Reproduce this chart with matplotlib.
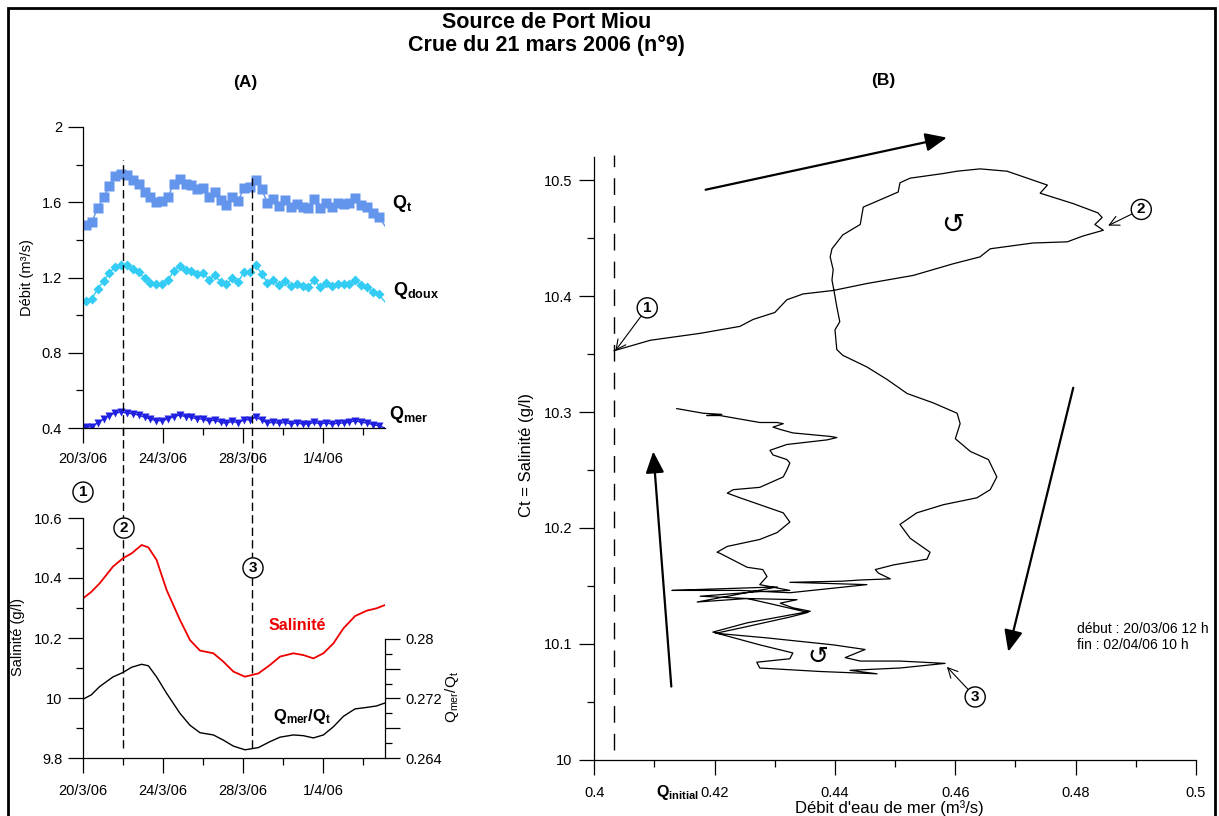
import numpy as np
import matplotlib
matplotlib.use("Agg")
import matplotlib.pyplot as plt
from matplotlib.patches import Rectangle
from matplotlib.ticker import FixedLocator, FixedFormatter

plt.rcParams['font.family'] = ['Liberation Sans', 'DejaVu Sans']
plt.rcParams['mathtext.fontset'] = 'custom'
plt.rcParams['mathtext.rm'] = 'Liberation Sans'
plt.rcParams['mathtext.bf'] = 'Liberation Sans:bold'
plt.rcParams['mathtext.it'] = 'Liberation Sans:italic'

# ---- (A) top : debits, jours depuis le 20/3/06
days_q = [0.0, 0.15, 0.44, 0.74, 1.03, 1.32, 1.61, 1.91, 2.20, 2.49, 2.78,
          3.08, 3.37, 3.66, 3.96, 4.25, 4.54, 4.83, 5.13, 5.42, 5.71,
          6.00, 6.30, 6.59, 6.88, 7.17, 7.47, 7.76, 8.05, 8.35, 8.64,
          8.93, 9.22, 9.52, 9.81, 10.10, 10.39, 10.69, 10.98, 11.27, 11.56,
          11.86, 12.15, 12.44, 12.74, 13.03, 13.32, 13.61, 13.91, 14.20, 14.49,
          14.78, 15.1]
q_total = [1.480, 1.479, 1.497, 1.568, 1.627, 1.684, 1.742, 1.751, 1.746, 1.719, 1.698,
           1.653, 1.627, 1.602, 1.609, 1.630, 1.698, 1.723, 1.698, 1.692, 1.669,
           1.678, 1.627, 1.657, 1.612, 1.586, 1.627, 1.609, 1.675, 1.680, 1.719,
           1.669, 1.598, 1.616, 1.580, 1.612, 1.577, 1.591, 1.577, 1.572, 1.616,
           1.572, 1.598, 1.577, 1.595, 1.591, 1.598, 1.621, 1.586, 1.577, 1.541,
           1.524, 1.474]
q_doux = [1.075, 1.076, 1.086, 1.141, 1.180, 1.225, 1.257, 1.269, 1.266, 1.243, 1.230,
          1.195, 1.173, 1.164, 1.168, 1.186, 1.236, 1.260, 1.239, 1.236, 1.221,
          1.225, 1.189, 1.212, 1.177, 1.164, 1.195, 1.177, 1.230, 1.230, 1.266,
          1.221, 1.172, 1.186, 1.159, 1.182, 1.154, 1.168, 1.154, 1.150, 1.186,
          1.150, 1.172, 1.154, 1.164, 1.164, 1.164, 1.186, 1.159, 1.150, 1.124,
          1.111, 1.070]
q_mer = [0.403, 0.404, 0.407, 0.428, 0.448, 0.466, 0.480, 0.484, 0.480, 0.475, 0.469,
         0.457, 0.448, 0.439, 0.439, 0.448, 0.460, 0.469, 0.460, 0.457, 0.448,
         0.448, 0.436, 0.443, 0.430, 0.425, 0.436, 0.427, 0.444, 0.444, 0.457,
         0.443, 0.427, 0.430, 0.425, 0.430, 0.421, 0.427, 0.421, 0.421, 0.430,
         0.421, 0.427, 0.421, 0.425, 0.427, 0.430, 0.439, 0.430, 0.427, 0.418,
         0.412, 0.400]

# ---- (A) bottom : salinite et Qmer/Qt
days_s = [0.0, 0.42, 0.83, 1.5, 2.0, 2.43, 2.93, 3.27, 3.68, 4.18, 4.85, 5.35,
          5.85, 6.52, 7.02, 7.52, 8.1, 8.77, 9.35, 9.85, 10.52, 11.02, 11.52,
          12.02, 12.52, 13.02, 13.6, 14.18, 14.68, 15.1]
salinity = [10.332, 10.354, 10.382, 10.438, 10.466, 10.482, 10.51, 10.502, 10.46,
            10.36, 10.26, 10.193, 10.158, 10.149, 10.121, 10.088, 10.071, 10.082,
            10.11, 10.138, 10.149, 10.143, 10.132, 10.149, 10.182, 10.232, 10.273,
            10.291, 10.299, 10.31]
ratio_mer = [0.2719, 0.2725, 0.2736, 0.2749, 0.2755, 0.2762, 0.2766, 0.2764, 0.2749,
             0.2727, 0.2700, 0.2684, 0.2674, 0.2671, 0.2664, 0.2656, 0.2651, 0.2654,
             0.2662, 0.2668, 0.2671, 0.2670, 0.2667, 0.2671, 0.2682, 0.2696, 0.2706,
             0.2708, 0.2710, 0.2714]

date_ticks = [0, 4, 8, 12]
date_minor = [2, 6, 10, 14]
date_labels = ["20/3/06", "24/3/06", "28/3/06", "1/4/06"]
event_days = [2.0, 8.45]

# ---- (B) boucle Qmer / salinite
qmer_path = [0.4033, 0.4093, 0.4176, 0.4242, 0.4264, 0.4300, 0.4320, 0.4347, 0.4397, 0.4453,
             0.4530, 0.4596, 0.4641, 0.4658, 0.4729, 0.4786, 0.4812, 0.4846, 0.4832, 0.4844,
             0.4837, 0.4796, 0.4753, 0.4741, 0.4753, 0.4708, 0.4686, 0.4641, 0.4603, 0.4580,
             0.4525, 0.4508, 0.4505, 0.4447, 0.4442, 0.4413, 0.4395, 0.4392, 0.4397, 0.4395,
             0.4399, 0.4403, 0.4408, 0.4400, 0.4403, 0.4413, 0.4453, 0.4487, 0.4520, 0.4563,
             0.4603, 0.4608, 0.4600, 0.4625, 0.4655, 0.4669, 0.4658, 0.4636, 0.4580, 0.4536,
             0.4508, 0.4525, 0.4558, 0.4553, 0.4497, 0.4467, 0.4472, 0.4492, 0.4442, 0.4413,
             0.4325, 0.4453, 0.4325, 0.4242, 0.4129, 0.4184, 0.4304, 0.4171, 0.4254, 0.4337,
             0.4309, 0.4330, 0.4359, 0.4254, 0.4197, 0.4275, 0.4330, 0.4325, 0.4270, 0.4275,
             0.4375, 0.4470, 0.4425, 0.4508, 0.4583, 0.4508, 0.4442, 0.4417, 0.4450, 0.4397,
             0.4287, 0.4202, 0.4247, 0.4325, 0.4355, 0.4330, 0.4297, 0.4254, 0.4176, 0.4275,
             0.4325, 0.4275, 0.4287, 0.4280, 0.4254, 0.4209, 0.4204, 0.4221, 0.4275, 0.4304,
             0.4325, 0.4314, 0.4275, 0.4242, 0.4221, 0.4231, 0.4275, 0.4314, 0.4320, 0.4325,
             0.4320, 0.4297, 0.4292, 0.4320, 0.4387, 0.4403, 0.4392, 0.4330, 0.4309, 0.4297,
             0.4314, 0.4304, 0.4275, 0.4209, 0.4187, 0.4212, 0.4181, 0.4137]
sal_path = [10.353, 10.362, 10.368, 10.374, 10.380, 10.386, 10.397, 10.402, 10.405, 10.411,
            10.418, 10.428, 10.434, 10.441, 10.446, 10.447, 10.452, 10.457, 10.462, 10.468,
            10.472, 10.480, 10.487, 10.489, 10.496, 10.504, 10.508, 10.510, 10.508, 10.506,
            10.502, 10.498, 10.490, 10.477, 10.462, 10.453, 10.441, 10.434, 10.423, 10.414,
            10.403, 10.391, 10.378, 10.371, 10.354, 10.349, 10.339, 10.328, 10.316, 10.308,
            10.299, 10.290, 10.277, 10.266, 10.259, 10.244, 10.233, 10.226, 10.220, 10.213,
            10.203, 10.191, 10.179, 10.173, 10.168, 10.164, 10.161, 10.156, 10.155, 10.154,
            10.153, 10.151, 10.144, 10.146, 10.146, 10.147, 10.149, 10.136, 10.139, 10.138,
            10.135, 10.131, 10.128, 10.118, 10.110, 10.099, 10.092, 10.087, 10.084, 10.079,
            10.076, 10.074, 10.077, 10.079, 10.083, 10.085, 10.085, 10.088, 10.095, 10.099,
            10.105, 10.109, 10.114, 10.123, 10.127, 10.130, 10.134, 10.139, 10.141, 10.145,
            10.146, 10.151, 10.158, 10.164, 10.166, 10.178, 10.179, 10.184, 10.190, 10.196,
            10.205, 10.213, 10.220, 10.226, 10.230, 10.233, 10.235, 10.244, 10.250, 10.256,
            10.259, 10.263, 10.267, 10.272, 10.276, 10.278, 10.279, 10.282, 10.285, 10.287,
            10.290, 10.291, 10.291, 10.297, 10.297, 10.298, 10.299, 10.303]
q_initial = 0.4033

W, H = 1219, 816


def px_box(x0, y0, x1, y1):
    return [x0 / W, 1 - y1 / H, (x1 - x0) / W, (y1 - y0) / H]


def style(ax, sides=("left", "bottom")):
    for s in ["left", "right", "top", "bottom"]:
        ax.spines[s].set_visible(s in sides)
        ax.spines[s].set_linewidth(0.9)
    ax.tick_params(which="major", direction="out", length=11, width=0.9, labelsize=10.5)
    ax.tick_params(which="minor", direction="out", length=5, width=0.9)
    ax.patch.set_visible(False)


fig = plt.figure(figsize=(W / 100, H / 100), dpi=100)

# cadre
fig.patches.append(Rectangle((8 / W, -0.02), (1215 - 8) / W, 1.02 - 8 / H,
                             transform=fig.transFigure, fill=False, lw=2, ec="k"))

fig.text(547 / W, 1 - 22 / H, "Source de Port Miou", ha="center", va="center",
         fontsize=15.5, fontweight="bold")
fig.text(546 / W, 1 - 45 / H, "Crue du 21 mars 2006 (n°9)", ha="center", va="center",
         fontsize=15.5, fontweight="bold")
fig.text(245 / W, 1 - 82 / H, "(A)", ha="center", va="center", fontsize=12.5, fontweight="bold")
fig.text(883 / W, 1 - 80 / H, "(B)", ha="center", va="center", fontsize=12.5, fontweight="bold")

# ---------- (A) debits
ax_q = fig.add_axes(px_box(83, 127, 385, 428))
style(ax_q)
ax_q.plot(days_q, q_total, color="#6495ED", lw=1, marker="s", ms=6.5, mec="none",
          markevery=slice(1, -1))
ax_q.plot(days_q, q_doux, color="#33CCF5", lw=1, marker="D", ms=4.8, mec="none",
          markevery=slice(1, -1))
ax_q.plot(days_q, q_mer, color="#2020E0", lw=1, marker="v", ms=5.5, mec="none",
          markevery=slice(1, -1))
ax_q.set_xlim(0, 15.1)
ax_q.set_ylim(0.4, 2)
ax_q.xaxis.set_major_locator(FixedLocator(date_ticks))
ax_q.xaxis.set_major_formatter(FixedFormatter(date_labels))
ax_q.xaxis.set_minor_locator(FixedLocator(date_minor))
ax_q.yaxis.set_major_locator(FixedLocator([0.4, 0.8, 1.2, 1.6, 2.0]))
ax_q.yaxis.set_major_formatter(FixedFormatter(["0.4", "0.8", "1.2", "1.6", "2"]))
ax_q.yaxis.set_minor_locator(FixedLocator([0.6, 1.0, 1.4, 1.8]))
ax_q.tick_params(axis="x", pad=6)
ax_q.tick_params(axis="y", pad=4)
ax_q.text(-0.185, 0.5, "Débit (m³/s)", transform=ax_q.transAxes, rotation=90,
          ha="center", va="center", fontsize=10.5)
ax_q.text(15.45, 1.596, r"$\mathbf{Q}_\mathbf{t}$", fontsize=13, ha="left", va="center")
ax_q.text(15.5, 1.133, r"$\mathbf{Q}_\mathbf{doux}$", fontsize=13, ha="left", va="center")
ax_q.text(15.3, 0.474, r"$\mathbf{Q}_\mathbf{mer}$", fontsize=13, ha="left", va="center")

# lignes pointillees 2 et 3 (traversent les deux graphes)
xt = ax_q.get_xaxis_transform()
ax_q.plot([event_days[0]] * 2, [-1.063, 0.890], transform=xt, color="k", lw=1,
          dashes=(6, 3), clip_on=False)
ax_q.plot([event_days[1]] * 2, [-1.063, 0.831], transform=xt, color="k", lw=1,
          dashes=(6, 3), clip_on=False)

# ---------- (A) salinite
ax_s = fig.add_axes(px_box(83, 518, 385, 758))
style(ax_s)
ax_s.plot(days_s, salinity, color="#EE0000", lw=1.3)
ax_s.set_xlim(0, 15.1)
ax_s.set_ylim(9.8, 10.6)
ax_s.xaxis.set_major_locator(FixedLocator(date_ticks))
ax_s.xaxis.set_major_formatter(FixedFormatter(date_labels))
ax_s.xaxis.set_minor_locator(FixedLocator(date_minor))
ax_s.yaxis.set_major_locator(FixedLocator([9.8, 10.0, 10.2, 10.4, 10.6]))
ax_s.yaxis.set_major_formatter(FixedFormatter(["9.8", "10", "10.2", "10.4", "10.6"]))
ax_s.yaxis.set_minor_locator(FixedLocator([9.9, 10.1, 10.3, 10.5]))
ax_s.tick_params(axis="x", pad=8)
ax_s.tick_params(axis="y", pad=4)
ax_s.text(-0.215, 0.504, "Salinité (g/l)", transform=ax_s.transAxes, rotation=90,
          ha="center", va="center", fontsize=10.5)
ax_s.text(10.7, 10.24, "Salinité", color="#EE0000", fontsize=11.5, fontweight="bold",
          ha="center", va="center")
ax_s.text(10.95, 9.94, r"$\mathbf{Q}_\mathbf{mer}\mathbf{/Q}_\mathbf{t}$", fontsize=12,
          ha="center", va="center")

circ = dict(boxstyle="circle,pad=0.2", fc="white", ec="k", lw=1)
sx = ax_s.get_xaxis_transform()
ax_s.text(0.0, 1.108, "1", transform=sx, fontsize=11, fontweight="bold", ha="center",
          va="center", bbox=circ, zorder=5)
ax_s.text(2.05, 0.958, "2", transform=sx, fontsize=11, fontweight="bold", ha="center",
          va="center", bbox=circ, zorder=5)
ax_s.text(8.5, 0.792, "3", transform=sx, fontsize=11, fontweight="bold", ha="center",
          va="center", bbox=circ, zorder=5)

# axe droit Qmer/Qt
ax_r = fig.add_axes(px_box(83, 639, 385, 758))
style(ax_r, sides=("right",))
ax_r.plot(days_s, ratio_mer, color="k", lw=1)
ax_r.set_xlim(0, 15.1)
ax_r.set_ylim(0.264, 0.28)
ax_r.set_xticks([])
ax_r.yaxis.tick_right()
ax_r.yaxis.set_major_locator(FixedLocator([0.264, 0.268, 0.272, 0.276, 0.28]))
ax_r.yaxis.set_major_formatter(FixedFormatter(["0.264", "", "0.272", "", "0.28"]))
ax_r.yaxis.set_minor_locator(FixedLocator([0.266, 0.270, 0.274, 0.278]))
ax_r.tick_params(axis="y", pad=4)
ax_r.text(1.222, 0.513, r"$\mathrm{Q}_\mathrm{mer}\mathrm{/Q}_\mathrm{t}$", transform=ax_r.transAxes,
          rotation=90, ha="center", va="center", fontsize=11)

# ---------- (B)
ax_b = fig.add_axes(px_box(594.3, 157.3, 1196, 759.5))
style(ax_b)
ax_b.plot(qmer_path, sal_path, color="k", lw=0.9)
ax_b.set_xlim(0.4, 0.5)
ax_b.set_ylim(10.0, 10.52)
ax_b.xaxis.set_major_locator(FixedLocator([0.40, 0.42, 0.44, 0.46, 0.48, 0.50]))
ax_b.xaxis.set_major_formatter(FixedFormatter(["0.4", "0.42", "0.44", "0.46", "0.48", "0.5"]))
ax_b.xaxis.set_minor_locator(FixedLocator([0.41, 0.43, 0.45, 0.47, 0.49]))
ax_b.yaxis.set_major_locator(FixedLocator([10.0, 10.1, 10.2, 10.3, 10.4, 10.5]))
ax_b.yaxis.set_major_formatter(FixedFormatter(["10", "10.1", "10.2", "10.3", "10.4", "10.5"]))
ax_b.yaxis.set_minor_locator(FixedLocator([10.05, 10.15, 10.25, 10.35, 10.45]))
ax_b.tick_params(axis="x", pad=8)
ax_b.tick_params(axis="y", pad=5)
ax_b.text(0.49, -0.0805, "Débit d'eau de mer (m³/s)", transform=ax_b.transAxes,
          ha="center", va="center", fontsize=12)
ax_b.text(-0.112, 0.506, "Ct = Salinité (g/l)", transform=ax_b.transAxes, rotation=90,
          ha="center", va="center", fontsize=12)

bx = ax_b.get_xaxis_transform()
ax_b.plot([q_initial] * 2, [0.016, 1.004], transform=bx, color="k", lw=1,
          dashes=(12, 8), clip_on=False)
ax_b.text(q_initial + 0.0106, -0.054, r"$\mathbf{Q}_\mathbf{initial}$", transform=bx,
          ha="center", va="center", fontsize=11.5)

big = dict(arrowstyle="-|>,head_length=0.65,head_width=0.28", lw=1.6, color="k",
           mutation_scale=20, shrinkA=0, shrinkB=0)
ax_b.annotate("", xy=(0.4586, 10.537), xytext=(0.4185, 10.492), arrowprops=big,
              annotation_clip=False)
ax_b.annotate("", xy=(0.4688, 10.093), xytext=(0.4796, 10.321), arrowprops=big,
              annotation_clip=False)
ax_b.annotate("", xy=(0.4098, 10.266), xytext=(0.4128, 10.063), arrowprops=big,
              annotation_clip=False)

thin = dict(arrowstyle="->,head_length=0.5,head_width=0.25", lw=0.8, color="k",
            mutation_scale=14, shrinkA=0, shrinkB=0)
ax_b.annotate("1", xy=(qmer_path[0] + 0.0002, sal_path[0]), xytext=(0.4088, 10.390),
              fontsize=11, fontweight="bold", ha="center", va="center", bbox=circ,
              arrowprops=thin)
ax_b.annotate("2", xy=(0.4854, 10.461), xytext=(0.4909, 10.475),
              fontsize=11, fontweight="bold", ha="center", va="center", bbox=circ,
              arrowprops=thin)
ax_b.annotate("3", xy=(0.4586, 10.080), xytext=(0.4633, 10.054),
              fontsize=11, fontweight="bold", ha="center", va="center", bbox=circ,
              arrowprops=thin)

ax_b.text(0.4595, 10.462, "↺", fontsize=20, family="DejaVu Sans", ha="center", va="center")
ax_b.text(0.4372, 10.0885, "↺", fontsize=18, family="DejaVu Sans", ha="center", va="center")

ax_b.text(0.4802, 10.113, "début : 20/03/06 12 h", fontsize=10, ha="left", va="center")
ax_b.text(0.4802, 10.099, "fin : 02/04/06 10 h", fontsize=10, ha="left", va="center")

fig.savefig("out.png", dpi=100)
